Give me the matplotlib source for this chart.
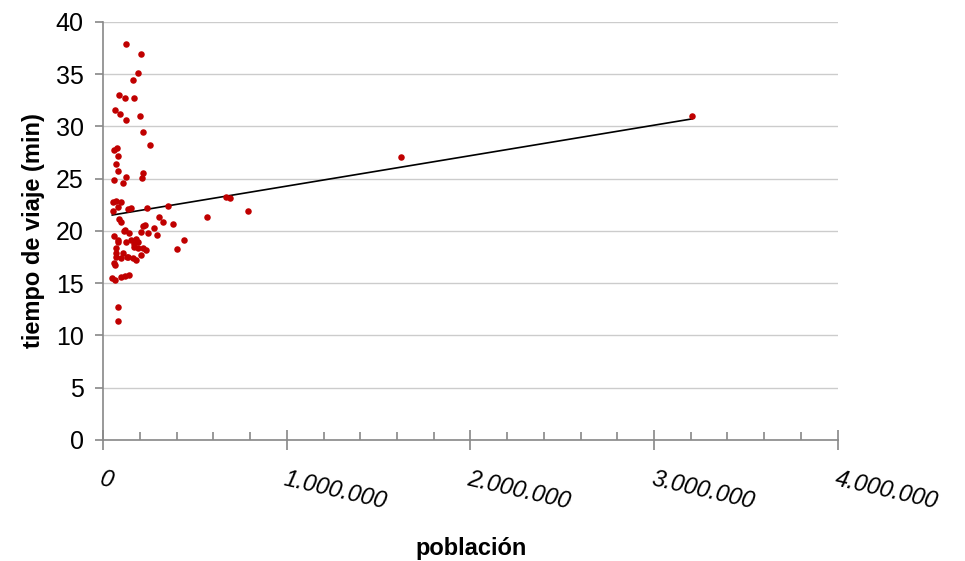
import numpy as np
import matplotlib
matplotlib.use("Agg")
import matplotlib.pyplot as plt
from matplotlib.ticker import MultipleLocator

# poblacion (miles de habitantes) y tiempo de viaje (min)
poblacion_k = [125, 207, 190, 163, 87, 120, 168, 65, 92, 125, 201, 217, 255,
               60, 76, 82, 71, 82, 60, 125, 109, 217, 212, 54, 71, 98, 54, 82,
               136, 152, 239, 353, 88, 98, 304, 326, 380, 565, 217, 228, 207,
               245, 277, 293, 120, 141, 60, 82, 125, 152, 179, 190, 440, 402,
               217, 234, 168, 109, 71, 136, 163, 179, 98, 60, 65, 49, 65, 98,
               120, 141, 82, 82, 668, 690, 788, 1620, 3207, 71, 207, 168,
               114, 82, 190, 130, 71]
tiempo = [37.9, 36.9, 35.1, 34.4, 33.0, 32.7, 32.7, 31.6, 31.2, 30.6, 31.0,
          29.5, 28.2, 27.7, 27.9, 27.2, 26.4, 25.7, 24.9, 25.2, 24.6, 25.5,
          25.1, 22.8, 22.9, 22.8, 21.9, 22.3, 22.1, 22.2, 22.2, 22.4, 21.1,
          20.8, 21.3, 20.8, 20.7, 21.3, 20.5, 20.6, 19.9, 19.8, 20.3, 19.6,
          20.1, 19.8, 19.5, 19.1, 18.9, 19.1, 19.2, 18.9, 19.1, 18.3, 18.4,
          18.2, 18.5, 17.9, 17.9, 17.5, 17.4, 17.2, 17.4, 16.9, 16.7, 15.5,
          15.3, 15.6, 15.7, 15.8, 12.7, 11.4, 23.2, 23.1, 21.9, 27.1, 31.0,
          18.4, 17.7, 18.7,
          20.0, 18.9, 18.4, 17.5, 17.5]

# linea de tendencia (min por habitante, min)
trend_slope = 2.914e-6
trend_intercept = 21.37

x_ticks = [0, 1000000, 2000000, 3000000, 4000000]
x_tick_labels = ["0", "1.000.000", "2.000.000", "3.000.000", "4.000.000"]

plt.rcParams['font.family'] = ['Liberation Sans', 'DejaVu Sans']

x = np.array(poblacion_k) * 1000.0
y = np.array(tiempo)

fig = plt.figure(figsize=(9.65, 5.61), dpi=100)
ax = fig.add_axes([0.107, 0.216, 0.761, 0.745])

ax.scatter(x, y, s=22, color="#c00000", zorder=3, linewidths=0)

xs = np.array([x.min(), x.max()])
ax.plot(xs, trend_intercept + trend_slope * xs, color="black", lw=1.2, zorder=2)

ax.set_xlim(0, 4000000)
ax.set_ylim(0, 40)
ax.yaxis.set_major_locator(MultipleLocator(5))
ax.grid(axis="y", color="#cccccc", lw=1)
ax.set_axisbelow(True)

for s in ("top", "right"):
    ax.spines[s].set_visible(False)
for s in ("left", "bottom"):
    ax.spines[s].set_color("#888888")
    ax.spines[s].set_linewidth(1.2)

ax.set_xticks(x_ticks)
ax.set_xticklabels(x_tick_labels, rotation=-13, rotation_mode="anchor",
                   ha="left", va="top", fontsize=17, style="italic")
ax.xaxis.set_minor_locator(MultipleLocator(200000))
ax.tick_params(axis="x", which="major", direction="inout", length=14,
               color="#888888", width=1.2, pad=13)
ax.tick_params(axis="x", which="minor", direction="in", length=6,
               color="#888888", width=1.2)
ax.tick_params(axis="y", which="major", direction="out", length=6,
               color="#888888", width=1.2, labelsize=18, pad=8)

fig.text(0.488, 0.023, "población", fontsize=17, fontweight="bold",
         ha="center", va="center")
ax.set_ylabel("tiempo de viaje (min)", fontsize=17, fontweight="bold",
              labelpad=8)

fig.savefig("out.png", dpi=100)
